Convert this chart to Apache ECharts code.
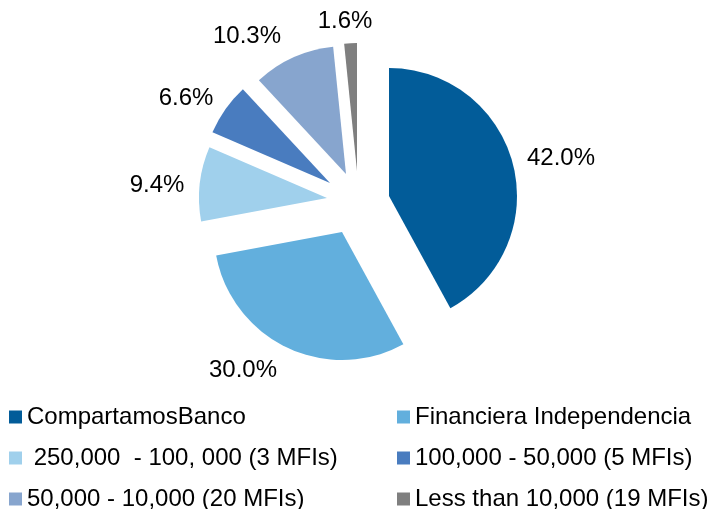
<!DOCTYPE html>
<html lang="en">
<head>
    <meta charset="UTF-8">
    <title>MFI market share</title>
    <script src="https://cdn.jsdelivr.net/npm/echarts@6/dist/echarts.min.js"></script>
    <style>
        html, body { margin: 0; padding: 0; background: #fff; }
        #charts { width: 726px; height: 509px; }
    </style>
</head>
<body>
<div id="charts"></div>
<script>
    // data
    var names = ['CompartamosBanco', 'Financiera Independencia', ' 250,000  - 100, 000 (3 MFIs)',
        '100,000 - 50,000 (5 MFIs)', '50,000 - 10,000 (20 MFIs)', 'Less than 10,000 (19 MFIs)'];
    var values = [42.0, 30.0, 9.4, 6.6, 10.3, 1.6];

    // styles / layout
    var colors = ['#025C99', '#62AFDD', '#A0D0EC', '#497CBF', '#87A5CE', '#7F7F7F'];
    // every slice is pulled out on its own, so each one gets its own centre
    var centers = [[389, 196], [342, 232], [327, 198], [330, 183], [346, 174], [357, 171]];
    var labelPos = [[561, 158], [243, 370], [157, 185], [186, 98], [247, 36], [345, 21]];
    var font = 'Liberation Sans, Arial, sans-serif';

    var myChart = echarts.init(document.getElementById('charts'));

    var series = names.map(function (n, k) {
        return {
            type: 'pie',
            silent: true,
            radius: [0, 128],
            center: centers[k],
            startAngle: 90,
            clockwise: true,
            avoidLabelOverlap: false,
            label: {
                show: true,
                position: 'outside',
                fontSize: 24,
                fontFamily: font,
                color: '#000',
                formatter: function (p) {
                    return p.value.toFixed(1) + '%';
                }
            },
            labelLine: { show: false },
            labelLayout: function (p) {
                return {
                    x: labelPos[k][0],
                    y: labelPos[k][1],
                    align: 'center',
                    verticalAlign: 'middle'
                };
            },
            emphasis: { disabled: true },
            data: names.map(function (name, i) {
                var d = { name: name, value: values[i] };
                if (i === k) {
                    d.itemStyle = { color: colors[i] };
                } else {
                    d.itemStyle = { color: 'rgba(0,0,0,0)' };
                    d.label = { show: false };
                }
                return d;
            })
        };
    });

    function legendCol(idx, left) {
        return {
            orient: 'vertical',
            left: left,
            top: 405,
            height: 130,
            padding: 0,
            itemGap: 17,
            itemWidth: 13,
            itemHeight: 13,
            icon: 'rect',
            selectedMode: false,
            textStyle: { fontSize: 24, color: '#000', fontFamily: font },
            data: idx.map(function (i) {
                return { name: names[i], itemStyle: { color: colors[i] } };
            })
        };
    }

    var option = {
        animation: false,
        backgroundColor: '#fff',
        legend: [legendCol([0, 2, 4], 9), legendCol([1, 3, 5], 397)],
        series: series
    };

    myChart.setOption(option);
</script>
</body>
</html>
